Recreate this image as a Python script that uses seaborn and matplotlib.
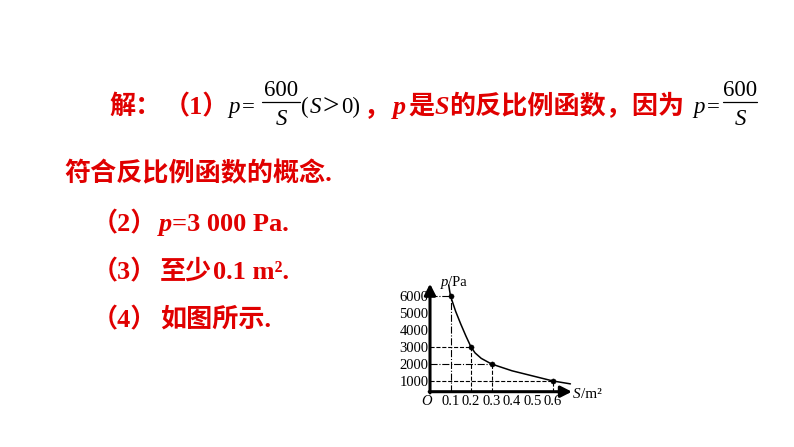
import matplotlib
matplotlib.use('Agg')
from matplotlib import pyplot as plt
from matplotlib.lines import Line2D
import pandas as pd
import seaborn as sns

sns.set_theme(style='white')
plt.rcParams['font.family'] = ['Liberation Serif', 'Noto Sans CJK SC']

S_curve = [0.091, 0.1, 0.125, 0.15, 0.175, 0.2, 0.22, 0.25, 0.3, 0.4, 0.5, 0.6, 0.685]
p_curve = [6650, 6000, 5100, 4350, 3650, 3000, 2650, 2330, 2000, 1600, 1300, 1000, 830]

# marked points
S_pts = [0.1, 0.2, 0.3, 0.6]
p_pts = [6000, 3000, 2000, 1000]
h_styles = ['-.', '--', '-.', '--']
v_styles = ['-.', '--', '--', '--']

S_ticks = [0.1, 0.2, 0.3, 0.4, 0.5, 0.6]
p_ticks = [1000, 2000, 3000, 4000, 5000, 6000]
S_ticklabels = ['0.1', '0.2', '0.3', '0.4', '0.5', '0.6']
p_ticklabels = ['1000', '2000', '3000', '4000', '5000', '6000']

W, H = 794, 447
RED = '#E00000'
FS = 18.8
fig = plt.figure(figsize=(W / 100, H / 100), dpi=100)


def T(x, y, s, **kw):
    kw.setdefault('va', 'baseline')
    kw.setdefault('ha', 'left')
    return fig.text(x / W, 1 - y / H, s, **kw)


def red(x, y, s, italic=False, size=FS):
    T(x, y, s, color=RED, fontsize=size, fontweight='bold',
      fontstyle='italic' if italic else 'normal',
      family=['Liberation Serif', 'Noto Sans CJK SC'])


def blk(x, y, s, italic=False, size=16.5, **kw):
    T(x, y, s, color='black', fontsize=size, family='Liberation Serif',
      fontstyle='italic' if italic else 'normal', **kw)


def frac(xc, x0, x1, ybar):
    blk(xc, ybar - 6.5, '600', ha='center')
    blk(xc, ybar + 23, 'S', italic=True, ha='center')
    fig.add_artist(Line2D([x0 / W, x1 / W], [1 - ybar / H, 1 - ybar / H],
                          color='black', lw=0.9))


# line 1
red(109, 114, '解：')
red(164, 114, '（1）')
blk(228, 113, 'p', italic=True)
blk(242, 113, '=')
frac(281, 262, 300, 102)
blk(301, 113, '(')
blk(310, 113, 'S', italic=True)
blk(323, 114, '>', size=21)
blk(341, 113, '0)')
red(364, 114, '，')
red(393, 114, 'p', italic=True)
red(408, 114, '是')
red(435, 114, 'S', italic=True)
red(449, 114, '的反比例函数，因为')
blk(693, 113, 'p', italic=True)
blk(707, 113, '=')
frac(740, 723, 757, 102)

# line 2
red(64, 181, '符合反比例函数的概念.')

# lines 3-5
for y, n in [(231, '2'), (279, '3'), (327, '4')]:
    red(92, y, '（' + n + '）')
red(159, 231, 'p', italic=True, size=19)
red(172, 231, '=3 000 Pa.', size=19)
red(160, 279, '至少')
red(213, 279, '0.1 m².', size=19)
red(160, 327, '如图所示.')

# chart
ppx = 205
ax = fig.add_axes([430 / W, (H - 391.7) / H, 0.692 * ppx / W, 6330 * 0.017 / H])
ax.set_xlim(0, 0.692)
ax.set_ylim(370, 6700)
for sp in ax.spines.values():
    sp.set_visible(False)

for s, p, hs, vs in zip(S_pts, p_pts, h_styles, v_styles):
    ax.plot([0, s], [p, p], ls=hs, color='black', lw=0.8)
    ax.plot([s, s], [370, p], ls=vs, color='black', lw=0.8)

df = pd.DataFrame({'S': S_curve, 'p': p_curve})
sns.lineplot(data=df, x='S', y='p', ax=ax, color='black', lw=1.1,
             sort=False, clip_on=False)
pts = pd.DataFrame({'S': S_pts, 'p': p_pts})
sns.scatterplot(data=pts, x='S', y='p', ax=ax, color='black', s=14,
                edgecolor='black', zorder=5, clip_on=False)

arrow = dict(arrowstyle='-|>,head_length=0.55,head_width=0.28', lw=2.2,
             color='black', shrinkA=0, shrinkB=0)
ax.annotate('', xy=(0.692, 370), xytext=(-0.004, 370), arrowprops=arrow,
            annotation_clip=False, zorder=1)
ax.annotate('', xy=(0, 6720), xytext=(0, 300), arrowprops=arrow,
            annotation_clip=False, zorder=1)

ax.set_xticks(S_ticks)
ax.set_xticklabels(S_ticklabels)
ax.set_yticks(p_ticks)
ax.set_yticklabels(p_ticklabels)
ax.set_axisbelow(False)
ax.tick_params(axis='both', direction='in', color=RED, length=4.5, width=1.3,
               labelsize=10.5, labelcolor='black')
ax.tick_params(axis='y', pad=1.0)
ax.tick_params(axis='x', pad=2.5)
ax.set_xlabel('')
ax.set_ylabel('')
ax.grid(False)
ax.patch.set_alpha(0)

blk(421, 405, 'O', italic=True, size=10.5)
blk(441, 286, 'p', italic=True, size=10.5)
blk(448, 286, '/Pa', size=10.5)
blk(573, 398, 'S', italic=True, size=11)
blk(581, 398, '/m²', size=11)

fig.savefig('out.png', dpi=100, facecolor='white')
